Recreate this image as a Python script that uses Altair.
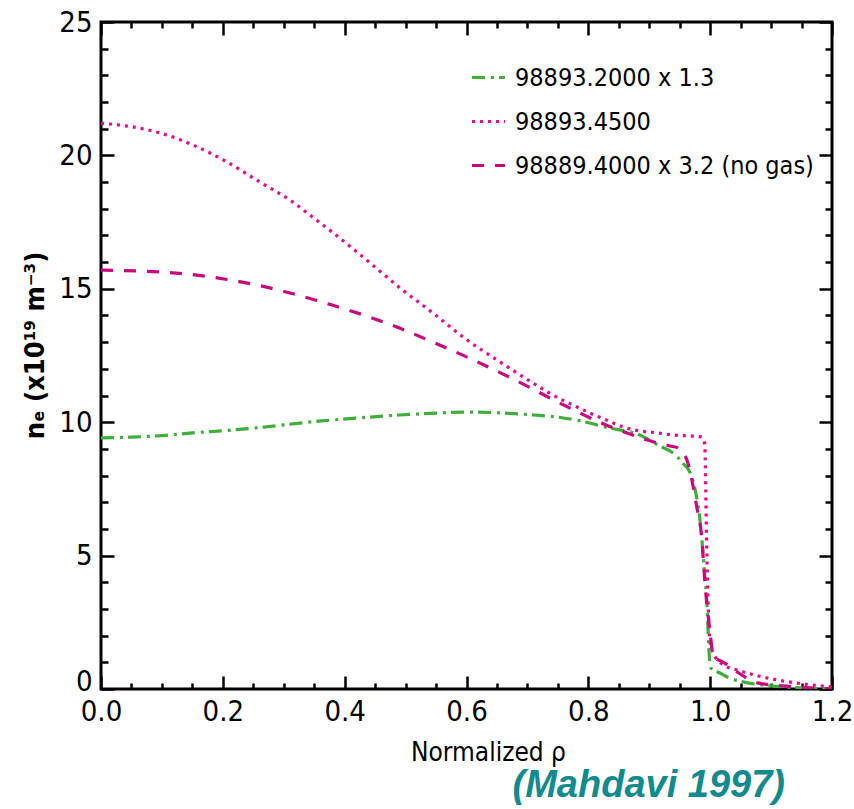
import altair as alt
import pandas as pd

# ---- data ----
series_names = ["98893.2000 x 1.3", "98893.4500", "98889.4000 x 3.2 (no gas)"]
series_colors = ["#3fae3a", "#e8068a", "#c8087c"]
series_dashes = [[13, 6, 3, 5], [3, 5], [12, 11]]

rho_green = [0, 0.05, 0.1, 0.15, 0.2, 0.26, 0.34, 0.44, 0.49, 0.55, 0.6, 0.655, 0.71,
             0.75, 0.78, 0.835, 0.88, 0.918, 0.939, 0.955, 0.968, 0.975, 0.985, 0.99,
             0.995, 0.998, 1.001, 1.016, 1.032, 1.06, 1.1, 1.15, 1.2]
ne_green = [9.41, 9.44, 9.5, 9.6, 9.68, 9.8, 10.0, 10.19, 10.27, 10.34, 10.38, 10.35, 10.27,
            10.19, 10.08, 9.78, 9.56, 9.1, 8.85, 8.47, 8.06, 7.5, 5.96, 4.57,
            3.07, 1.46, 0.79, 0.6, 0.41, 0.24, 0.12, 0.04, 0.0]

rho_pink = [0, 0.043, 0.097, 0.151, 0.207, 0.261, 0.315, 0.338, 0.381, 0.436, 0.491, 0.545,
            0.601, 0.655, 0.709, 0.748, 0.778, 0.803, 0.830, 0.857, 0.885, 0.913, 0.939,
            0.970, 0.985, 0.991, 0.9945, 0.9997, 1.005, 1.021, 1.049, 1.077, 1.12, 1.16, 1.2]
ne_pink = [21.2, 21.1, 20.84, 20.39, 19.75, 19.0, 18.25, 17.85, 17.1, 16.08, 15.03, 14.09,
           13.08, 12.26, 11.47, 10.94, 10.61, 10.34, 10.08, 9.82, 9.67, 9.6, 9.52,
           9.48, 9.45, 9.2, 5.1, 1.8, 1.35, 0.92, 0.68, 0.5, 0.3, 0.17, 0.08]

rho_mag = [0, 0.118, 0.207, 0.27, 0.327, 0.381, 0.436, 0.491, 0.545, 0.601, 0.655, 0.709,
           0.746, 0.783, 0.820, 0.859, 0.897, 0.934, 0.948, 0.963, 0.978, 0.986, 0.991,
           1.0, 1.005, 1.024, 1.044, 1.08, 1.13, 1.2]
ne_mag = [15.7, 15.6, 15.35, 15.07, 14.74, 14.38, 13.98, 13.52, 13.0, 12.44, 11.86, 11.24,
          10.8, 10.38, 9.98, 9.63, 9.33, 9.11, 9.03, 8.5, 6.82, 5.7, 4.09,
          2.1, 1.25, 0.97, 0.64, 0.22, 0.1, 0.0]

x_major = [0.0, 0.2, 0.4, 0.6, 0.8, 1.0, 1.2]
x_minor = [0.05, 0.1, 0.15, 0.25, 0.3, 0.35, 0.45, 0.5, 0.55, 0.65, 0.7, 0.75,
           0.85, 0.9, 0.95, 1.05, 1.1, 1.15]
y_major = [0, 5, 10, 15, 20, 25]
y_minor = [1, 2, 3, 4, 6, 7, 8, 9, 11, 12, 13, 14, 16, 17, 18, 19, 21, 22, 23, 24]

rows = []
for name, rs, ns in zip(series_names, [rho_green, rho_pink, rho_mag], [ne_green, ne_pink, ne_mag]):
    for i, (r, n) in enumerate(zip(rs, ns)):
        rows.append({"series": name, "rho": r, "ne": n, "order": i})
df = pd.DataFrame(rows)
corners = pd.DataFrame({"rho": [0.0, 1.2], "ne": [0.0, 25.0]})

W, H = 731, 667
FONT = "DejaVu Sans Condensed, Liberation Sans Narrow, sans-serif"
xs = alt.Scale(domain=[0, 1.2], nice=False, zero=False)
ys = alt.Scale(domain=[0, 25], nice=False)

lines = alt.Chart(df).mark_line(strokeWidth=3.2, clip=True, interpolate="monotone").encode(
    x=alt.X("rho:Q", scale=xs, axis=alt.Axis(
        orient="bottom", values=x_major, format=".1f", ticks=False, domain=False, grid=False,
        labelFont=FONT, labelFontSize=29, labelColor="black", labelPadding=8,
        labelFlush=False, labelBaseline="top",
        title="Normalized ρ", titleFont=FONT, titleFontSize=26, titleFontWeight="normal",
        titleColor="black", titleX=387, titleY=71, titleBaseline="alphabetic")),
    y=alt.Y("ne:Q", scale=ys, axis=alt.Axis(
        orient="left", values=y_major, ticks=False, domain=False, grid=False,
        labelFont=FONT, labelFontSize=29, labelColor="black", labelPadding=9,
        labelFlush=False, labelBaseline="middle",
        labelOffset={"condition": {"test": "datum.value == 0", "value": -8}, "value": 0},
        title="nₑ (x10¹⁹ m⁻³)", titleFont=FONT, titleFontSize=27, titleFontWeight="bold",
        titleColor="black", titleAngle=270, titleX=-58, titleY=323, titleBaseline="alphabetic")),
    color=alt.Color("series:N", scale=alt.Scale(domain=series_names, range=series_colors),
                    legend=alt.Legend(title=None)),
    strokeDash=alt.StrokeDash("series:N", scale=alt.Scale(domain=series_names, range=series_dashes),
                              legend=alt.Legend(title=None)),
    order="order:Q",
)


def tick_layer(xorient, yorient, xvals, yvals, xsize, ysize):
    return alt.Chart(corners).mark_point(opacity=0).encode(
        x=alt.X("rho:Q", scale=xs, axis=alt.Axis(
            orient=xorient, offset=-H, values=xvals, labels=False, domain=False, grid=False,
            tickSize=xsize, tickWidth=2.5, tickColor="black", title=None)),
        y=alt.Y("ne:Q", scale=ys, axis=alt.Axis(
            orient=yorient, offset=-W, values=yvals, labels=False, domain=False, grid=False,
            tickSize=ysize, tickWidth=2.5, tickColor="black", title=None)),
    )


t1 = tick_layer("top", "right", x_major, y_major, 13, 13)
t2 = tick_layer("top", "right", x_minor, y_minor, 6, 7)
t3 = tick_layer("bottom", "left", x_major, y_major, 13, 13)
t4 = tick_layer("bottom", "left", x_minor, y_minor, 6, 7)

chart = alt.layer(lines, t1, t2, t3, t4).resolve_axis(
    x="independent", y="independent"
).properties(
    width=W, height=H,
    autosize=alt.AutoSizeParams(type="none"),
    padding={"left": 101, "top": 22, "right": 22, "bottom": 120},
    title=alt.TitleParams("(Mahdavi 1997)", orient="bottom", anchor="end", frame="group",
                          font="Liberation Sans, Arial, sans-serif", fontSize=38,
                          fontStyle="italic", fontWeight="bold", color="#138a8c",
                          offset=32, dx=-47, baseline="alphabetic"),
).configure_view(
    stroke="black", strokeWidth=3
).configure_legend(
    orient="none", legendX=369, legendY=37, symbolType="stroke", symbolSize=1089,
    symbolStrokeWidth=3.2, labelFont=FONT, labelFontSize=25, labelColor="black",
    labelOffset=8, rowPadding=12, padding=0, labelLimit=400
)

chart.save("out.html", embed_options={"renderer": "svg", "actions": False})
